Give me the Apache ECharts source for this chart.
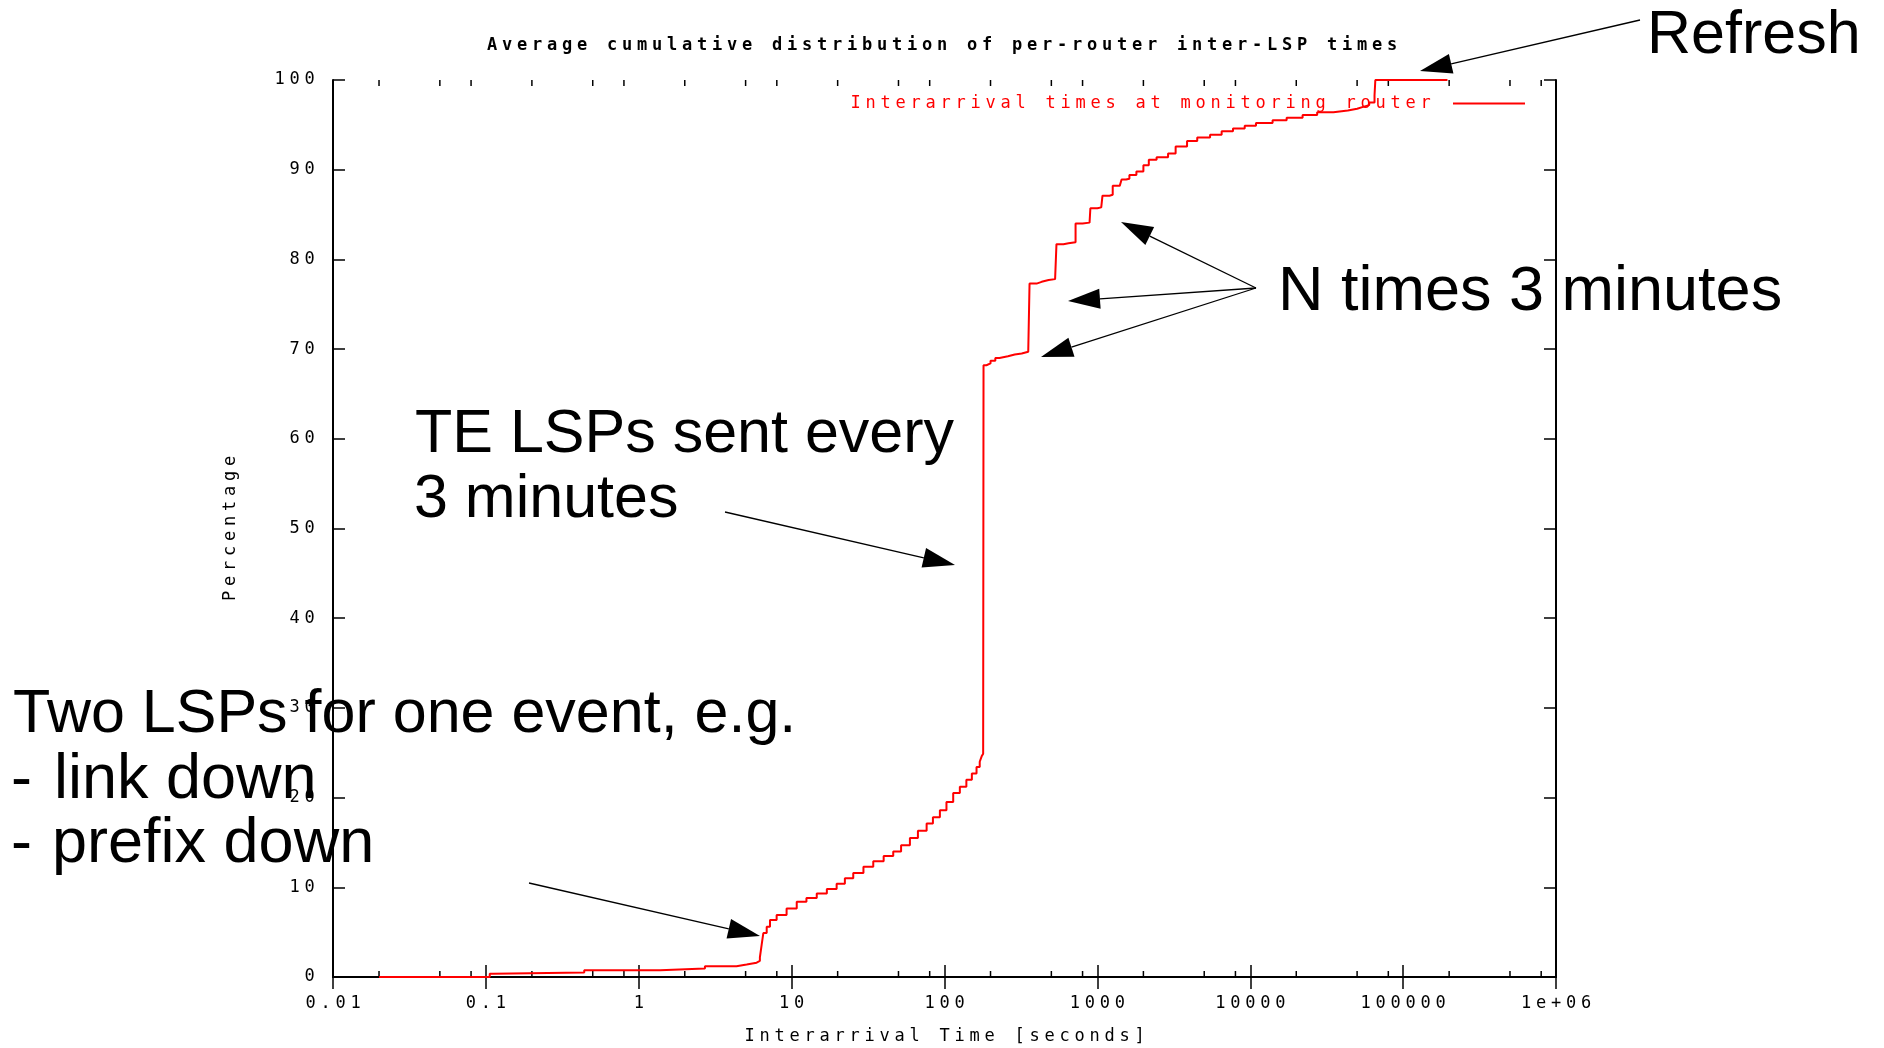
<!DOCTYPE html>
<html>
<head>
<meta charset="utf-8">
<title>Average cumulative distribution of per-router inter-LSP times</title>
<script src="https://cdn.jsdelivr.net/npm/echarts@6/dist/echarts.min.js"></script>
<style>
  html, body { margin: 0; padding: 0; background: #fff; }
  #chart { width: 1884px; height: 1048px; }
</style>
</head>
<body>
<div id="chart"></div>
<script>
// Interarrival time (seconds) and cumulative percentage of LSPs
const interarrivalSec = [
  0.02, 0.106, 0.112, 0.44, 1.38, 2.71, 4.36, 5.08, 5.9, 6.2,
  6.37, 6.53, 6.87, 7.22, 7.98, 9.27, 10.8, 12.5, 14.6, 17,
  19.7, 22.3, 25.3, 29.5, 34.2, 40, 46.2, 52, 59.4, 67,
  76.4, 84, 93.3, 103, 114, 126, 139, 151, 162, 170,
  175, 179, 180, 188, 200, 215, 229, 260, 288, 320,
  353, 360, 400, 432, 480, 529, 540, 600, 647, 720,
  800, 889, 900, 1000, 1060, 1080, 1200, 1260, 1400, 1440,
  1540, 1620, 1800, 2000, 2170, 2440, 2900, 3250, 3860, 4500,
  5460, 6500, 7710, 9200, 10900, 14000, 17300, 22000, 27400, 35000,
  43500, 50000, 54700, 60000, 65000, 65800, 195000
];
const cumulativePct = [
  0, 0.35, 0.5, 0.75, 0.95, 1.2, 1.4, 1.6, 1.8, 2.2,
  3.6, 4.9, 5.6, 6.35, 6.9, 7.65, 8.4, 8.8, 9.3, 9.8,
  10.4, 11.0, 11.6, 12.3, 12.9, 13.5, 14.0, 14.7, 15.5, 16.3,
  17.1, 17.8, 18.6, 19.5, 20.5, 21.2, 22.0, 22.7, 23.4, 24.0,
  24.6, 24.9, 68.2, 68.4, 68.7, 69.0, 69.2, 69.4, 69.5, 69.7,
  69.9, 77.3, 77.5, 77.7, 77.8, 77.9, 81.7, 81.8, 81.9, 84.0,
  84.1, 84.2, 85.7, 85.8, 85.9, 87.1, 87.2, 88.2, 88.3, 88.9,
  89.0, 89.4, 89.8, 90.5, 91.1, 91.4, 91.8, 92.6, 93.2, 93.6,
  93.9, 94.3, 94.6, 94.9, 95.2, 95.5, 95.8, 96.1, 96.4, 96.6,
  96.8, 97.0, 97.2, 97.5, 98.3, 100, 100
];

// Axis labels and minor tick positions (2, 5, 8 in each decade)
const xTickLabels = ['0.01', '0.1', '1', '10', '100', '1000', '10000', '100000', '1e+06'];
const xMinorTicks = [
  0.02, 0.05, 0.08, 0.2, 0.5, 0.8, 2, 5, 8, 20, 50, 80,
  200, 500, 800, 2000, 5000, 8000, 20000, 50000, 80000,
  200000, 500000, 800000
];

const seriesName = 'Interarrival times at monitoring router';
const titleText = 'Average cumulative distribution of per-router inter-LSP times';
const xName = 'Interarrival Time [seconds]';
const yName = 'Percentage';

const MONO = '"DejaVu Sans Mono", "Liberation Mono", monospace';
const SANS = '"Liberation Sans", Arial, Helvetica, sans-serif';
const CELL = 15;

// Fixed-pitch, widely spaced terminal lettering: one rich token per character
function spaced(str) {
  return str.split('').map(function (ch) { return '{c|' + ch + '}'; }).join('');
}
function cellStyle(color) {
  return { c: { width: CELL, align: 'center', fontFamily: MONO, fontSize: 17, color: color } };
}

function arrow(tail, tip) {
  const dx = tip[0] - tail[0], dy = tip[1] - tail[1];
  const len = Math.sqrt(dx * dx + dy * dy);
  const ux = dx / len, uy = dy / len;
  const headLen = 32, halfW = 10;
  const bx = tip[0] - ux * headLen, by = tip[1] - uy * headLen;
  return [
    { type: 'line', z: 100, silent: true,
      shape: { x1: tail[0], y1: tail[1], x2: bx, y2: by },
      style: { stroke: '#000', lineWidth: 1.3 } },
    { type: 'polygon', z: 100, silent: true,
      shape: { points: [[tip[0], tip[1]], [bx - uy * halfW, by + ux * halfW], [bx + uy * halfW, by - ux * halfW]] },
      style: { fill: '#000' } }
  ];
}

function note(text, x, y, size) {
  return { type: 'text', x: x, y: y, z: 100, silent: true,
    style: { text: text, fontFamily: SANS, fontSize: size || 61, fill: '#000', align: 'left', verticalAlign: 'middle' } };
}

const graphics = [].concat(
  [
    note('Refresh', 1647, 36),
    note('N times 3 minutes', 1278, 293, 63),
    note('TE LSPs sent every', 415, 435),
    note('3 minutes', 414, 500),
    note('Two LSPs for one event, e.g.', 13, 715),
    note('-', 11, 781, 63),
    note('link down', 54, 781, 63),
    note('-', 11, 845, 63),
    note('prefix down', 52, 845, 63)
  ],
  arrow([1640, 20], [1420, 71]),
  arrow([1256, 288], [1121, 222]),
  arrow([1256, 288], [1068, 301]),
  arrow([1256, 288], [1041, 357]),
  arrow([725, 512], [955, 565]),
  arrow([529, 883], [760, 936])
);

const frameLine = { show: true, lineStyle: { color: '#000', width: 2 } };

const chart = echarts.init(document.getElementById('chart'), null, { renderer: 'canvas' });
chart.setOption({
  animation: false,
  backgroundColor: '#fff',
  title: {
    text: spaced(titleText),
    left: 'center',
    top: 32,
    textStyle: { rich: cellStyle('#000') }
  },
  legend: {
    data: [seriesName],
    right: 354,
    top: 90,
    align: 'right',
    icon: 'rect',
    itemWidth: 72,
    itemHeight: 2,
    selectedMode: false,
    formatter: function (name) { return spaced(name) + '{c| }'; },
    textStyle: { color: '#ff0000', rich: cellStyle('#ff0000') }
  },
  grid: { left: 333, right: 328, top: 80, bottom: 71, outerBoundsMode: 'none' },
  xAxis: [
    {
      type: 'log', logBase: 10, min: 0.01, max: 1e6, position: 'bottom',
      axisLine: frameLine,
      axisTick: { show: true, inside: true, length: 12, lineStyle: { color: '#000', width: 1.5 } },
      splitLine: { show: false },
      minorTick: { show: false },
      axisLabel: {
        margin: 18,
        formatter: function (v) {
          const i = Math.round(Math.log10(v)) + 2;
          return spaced(xTickLabels[i] !== undefined ? xTickLabels[i] : String(v));
        },
        rich: cellStyle('#000')
      },
      name: spaced(xName), nameLocation: 'middle', nameGap: 51,
      nameTextStyle: { rich: cellStyle('#000') }
    },
    {
      type: 'log', logBase: 10, min: 0.01, max: 1e6, position: 'top',
      axisLine: frameLine,
      axisTick: { show: true, inside: true, length: 12, lineStyle: { color: '#000', width: 1.5 } },
      axisLabel: { show: false },
      splitLine: { show: false }
    }
  ],
  yAxis: [
    {
      type: 'value', min: 0, max: 100, interval: 10, position: 'left',
      axisLine: frameLine,
      axisTick: { show: true, inside: true, length: 12, lineStyle: { color: '#000', width: 1.5 } },
      splitLine: { show: false },
      axisLabel: {
        margin: 16,
        formatter: function (v) { return spaced(String(v)); },
        rich: cellStyle('#000')
      },
      name: spaced(yName), nameLocation: 'middle', nameGap: 94, nameRotate: 90,
      nameTextStyle: { rich: cellStyle('#000') }
    },
    {
      type: 'value', min: 0, max: 100, interval: 10, position: 'right',
      axisLine: frameLine,
      axisTick: { show: true, inside: true, length: 12, lineStyle: { color: '#000', width: 1.5 } },
      axisLabel: { show: false },
      splitLine: { show: false }
    }
  ],
  series: [
    {
      name: seriesName,
      type: 'line',
      step: 'end',
      xAxisIndex: 0, yAxisIndex: 0,
      data: interarrivalSec.map(function (x, i) { return [x, cumulativePct[i]]; }),
      showSymbol: false,
      symbol: 'none',
      clip: false,
      silent: true,
      z: 5,
      lineStyle: { color: '#ff0000', width: 2 },
      itemStyle: { color: '#ff0000' }
    },
    {
      // minor ticks on the bottom and top edges at 2, 5 and 8 of each decade
      name: 'minor ticks',
      type: 'custom',
      xAxisIndex: 0, yAxisIndex: 0,
      silent: true,
      z: 3,
      data: xMinorTicks.map(function (v) { return [v, 0]; }),
      renderItem: function (params, api) {
        const v = api.value(0);
        const b = api.coord([v, 0]);
        const t = api.coord([v, 100]);
        const st = { stroke: '#000', lineWidth: 1.5 };
        return {
          type: 'group',
          children: [
            { type: 'line', shape: { x1: b[0], y1: b[1], x2: b[0], y2: b[1] - 6 }, style: st },
            { type: 'line', shape: { x1: t[0], y1: t[1], x2: t[0], y2: t[1] + 6 }, style: st }
          ]
        };
      }
    }
  ],
  graphic: graphics
});
</script>
</body>
</html>
